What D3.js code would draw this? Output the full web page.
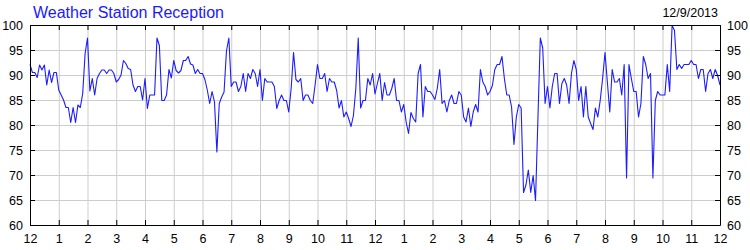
<!DOCTYPE html>
<html>
<head>
<meta charset="utf-8">
<script src="https://cdn.jsdelivr.net/npm/d3@7"></script>
<style>
  body { margin: 0; background: #fff; }
  svg text { font-family: "Liberation Sans", Arial, sans-serif; }
</style>
</head>
<body>
<div id="chart"></div>
<script>
const w = 750;
const h = 250;
const margin = {top: 25, right: 30, bottom: 25, left: 30};

const chartTitle = "Weather Station Reception";
const chartDate = "12/9/2013";

// hour labels along the bottom, midnight to midnight
const hourLabels = ["12", "1", "2", "3", "4", "5", "6", "7", "8", "9", "10", "11",
                    "12", "1", "2", "3", "4", "5", "6", "7", "8", "9", "10", "11", "12"];
const yTicks = [60, 65, 70, 75, 80, 85, 90, 95, 100];
const sampleMinutes = 5;

// reception %, one row per hour (12 samples of 5 minutes), last value at midnight
const reception = [
    92.1, 90.5, 90.5, 89.5, 92, 91, 92, 88, 91, 88.5, 90.5, 90.5,
    87, 86, 85, 83.5, 83.5, 80.5, 83.5, 80.5, 84, 83.5, 86.3, 94.3,
    97.4, 86.8, 89.3, 86, 89.3, 90.3, 91, 91, 90.3, 91, 91, 90.3,
    88.6, 89.1, 90, 92.9, 92.3, 91.3, 91.1, 88, 86.7, 87.7, 87.7, 85,
    89.3, 83.3, 86, 86, 86, 97.4, 95.9, 84.9, 84.9, 86, 91.1, 89.4,
    92.9, 90.9, 90.4, 90.9, 92.9, 92.9, 93.7, 92.2, 92, 90.3, 91.1, 90.3,
    90.3, 89.1, 87, 84.3, 86.7, 84.6, 74.6, 84.3, 85.6, 86.6, 94.8, 97.4,
    87.7, 88.6, 88.6, 86.7, 87.7, 90.3, 86.7, 90.3, 89.3, 91.1, 90.3, 87.7,
    91.1, 84.9, 89.3, 88.6, 88.6, 88.6, 87.7, 83.3, 84.9, 86, 84.9, 84.9,
    82.6, 87.3, 94.5, 89.1, 88.6, 89.3, 84.9, 86, 86, 84.9, 84.3, 88,
    92.1, 89.3, 89.3, 90.3, 86.7, 89.3, 88.6, 88.6, 86.9, 83.4, 84.9, 81.6,
    82.6, 81.3, 79.7, 81.9, 87.3, 97.4, 83.4, 84.9, 84.9, 89.3, 88, 90.3,
    86.2, 88.3, 90.3, 84.9, 88.5, 86, 86, 87.3, 89.3, 84.9, 84.9, 82.6,
    84.1, 80.6, 78.3, 82.5, 81.3, 80.6, 90.3, 92.1, 81.6, 87.7, 86.7, 86.7,
    86, 85.1, 87.3, 91.1, 84.3, 84.9, 82.6, 84.9, 86, 84.3, 84.3, 86.7,
    86, 81.6, 80.6, 83.4, 79.7, 82.6, 84.1, 82.6, 91.1, 88.6, 87.7, 86,
    86.7, 87.9, 91.1, 92.1, 92.1, 93.7, 89.3, 86, 86, 83.6, 76.1, 81.6,
    84.1, 83.4, 66.5, 68, 71, 66.5, 69.9, 64.9, 81.2, 97.4, 95.4, 84.3,
    87.7, 83.4, 87.7, 90.3, 90.3, 84.3, 88.3, 89.3, 88, 84.3, 90.3, 92.9,
    91.1, 84.9, 87.7, 81.6, 87.7, 81.6, 80.3, 79.1, 83.4, 81.6, 84.9, 89.3,
    94.5, 88.5, 82.6, 91.1, 88.6, 88.6, 89.3, 86, 92.1, 69.4, 92.1, 89.3,
    86.7, 86.7, 81.6, 84.3, 93.7, 92.1, 89.3, 90.3, 69.4, 84.9, 86.7, 86,
    86, 86, 92.1, 86.7, 99.9, 98.9, 91.1, 92.1, 91.3, 92.1, 92.1, 92.1,
    92.9, 92.1, 92.1, 89.3, 91.1, 91.1, 86.7, 90.3, 91.1, 89.3, 91.1, 89.9,
    88
];

const pw = w - margin.left - margin.right;
const ph = h - margin.top - margin.bottom;

let svg = d3.select("#chart").append("svg")
    .attr("width", w)
    .attr("height", h);

let hourTicks = hourLabels.map((d, i) => i * 60);

let xScale = d3.scaleLinear()
    .domain([0, 24 * 60])
    .range([margin.left, w - margin.right]);

let yScale = d3.scaleLinear()
    .domain([60, 100])
    .range([h - margin.bottom, margin.top]);

// grid
svg.append("g")
    .attr("class", "grid")
    .attr("transform", "translate(0," + (h - margin.bottom) + ")")
    .call(d3.axisBottom(xScale).tickValues(hourTicks).tickSize(-ph).tickFormat(""))
    .call(g => g.select(".domain").remove());

svg.append("g")
    .attr("class", "grid")
    .attr("transform", "translate(" + margin.left + ",0)")
    .call(d3.axisLeft(yScale).tickValues(yTicks).tickSize(-pw).tickFormat(""))
    .call(g => g.select(".domain").remove());

svg.selectAll(".grid line")
    .attr("stroke", "#cdcdcd");

// data line
let line = d3.line()
    .x((d, i) => xScale(i * sampleMinutes))
    .y(d => yScale(d));

svg.append("path")
    .datum(reception)
    .attr("d", line)
    .attr("fill", "none")
    .attr("stroke", "#1c1cff")
    .attr("stroke-width", 1.1)
    .attr("stroke-linejoin", "round");

// axes with inner ticks
let xAxis = svg.append("g")
    .attr("transform", "translate(0," + (h - margin.bottom) + ")")
    .call(d3.axisBottom(xScale).tickValues(hourTicks)
        .tickFormat((d, i) => hourLabels[i])
        .tickSizeInner(-5).tickSizeOuter(0).tickPadding(9));

let xTop = svg.append("g")
    .attr("transform", "translate(0," + margin.top + ")")
    .call(d3.axisTop(xScale).tickValues(hourTicks).tickFormat("")
        .tickSizeInner(-5).tickSizeOuter(0));

let yLeft = svg.append("g")
    .attr("transform", "translate(" + margin.left + ",0)")
    .call(d3.axisLeft(yScale).tickValues(yTicks)
        .tickSizeInner(-5).tickSizeOuter(0).tickPadding(7));

let yRight = svg.append("g")
    .attr("transform", "translate(" + (w - margin.right) + ",0)")
    .call(d3.axisRight(yScale).tickValues(yTicks)
        .tickSizeInner(-5).tickSizeOuter(0).tickPadding(7));

svg.selectAll(".tick text")
    .attr("fill", "#000")
    .style("font-size", "12.5px")
    .style("font-family", "'Liberation Sans', Arial, sans-serif");

svg.selectAll(".domain, .tick line")
    .filter(function () { return !this.closest(".grid"); })
    .attr("stroke", "#000");

svg.append("text")
    .attr("x", 33)
    .attr("y", 18)
    .attr("fill", "#1a1aff")
    .style("font-size", "16px")
    .text(chartTitle);

svg.append("text")
    .attr("x", 718)
    .attr("y", 17.3)
    .attr("text-anchor", "end")
    .attr("fill", "#000")
    .style("font-size", "12.5px")
    .text(chartDate);
</script>
</body>
</html>
